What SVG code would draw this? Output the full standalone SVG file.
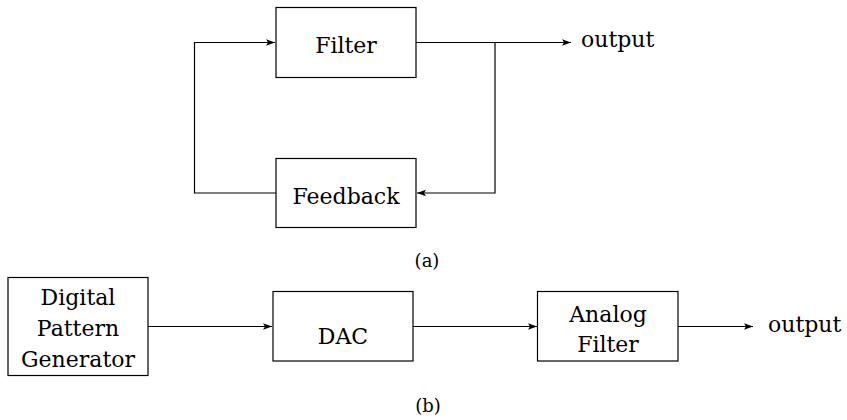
<svg xmlns="http://www.w3.org/2000/svg" width="847" height="420" viewBox="0 0 847 420">
<style>
.box{fill:#fff;stroke:#000;stroke-width:1.2}
.t{font-family:"DejaVu Serif","Liberation Serif",serif;font-size:22px;fill:#000;text-anchor:middle}
.o{font-family:"DejaVu Serif","Liberation Serif",serif;font-size:22px;fill:#000}
.cap{font-family:"DejaVu Serif","Liberation Serif",serif;font-size:18px;fill:#000;text-anchor:middle}
.ln{fill:none;stroke:#000;stroke-width:1.2}
</style>
<defs>
<marker id="ah" markerWidth="10" markerHeight="8" refX="9" refY="4" orient="auto" markerUnits="userSpaceOnUse">
<path d="M0,0.8 L9,4 L0,7.2 L2,4 Z" fill="#000"/>
</marker>
</defs>
<rect width="847" height="420" fill="#fff"/>
<g id="connectors">
<path class="ln" d="M416,42.5 H571" marker-end="url(#ah)"/>
<path class="ln" d="M495,42.5 V193 H417" marker-end="url(#ah)"/>
<path class="ln" d="M276,193 H194.5 V42.5 H275" marker-end="url(#ah)"/>
<path class="ln" d="M148,326.5 H272" marker-end="url(#ah)"/>
<path class="ln" d="M413,326.5 H537" marker-end="url(#ah)"/>
<path class="ln" d="M678,326.5 H753" marker-end="url(#ah)"/>
</g>
<g id="filter">
<rect class="box" x="276" y="7.5" width="140" height="70"/>
<text class="t" x="346" y="52.5">Filter</text>
</g>
<g id="feedback">
<rect class="box" x="276" y="158.5" width="140" height="69"/>
<text class="t" x="346" y="203.5">Feedback</text>
</g>
<text class="o" x="581" y="47">output</text>
<text class="cap" x="427" y="267">(a)</text>
<g id="dpg">
<rect class="box" x="8" y="277.5" width="140" height="98"/>
<text class="t" x="78" y="305">Digital</text>
<text class="t" x="78" y="336">Pattern</text>
<text class="t" x="78" y="366.5">Generator</text>
</g>
<g id="dac">
<rect class="box" x="273" y="291.5" width="140" height="69.5"/>
<text class="t" x="343" y="343.5">DAC</text>
</g>
<g id="analog">
<rect class="box" x="537.5" y="291.5" width="140.5" height="69.5"/>
<text class="t" x="608" y="321.5">Analog</text>
<text class="t" x="608" y="351.5">Filter</text>
</g>
<text class="o" x="768" y="331.5">output</text>
<text class="cap" x="428" y="411.5">(b)</text>
</svg>
